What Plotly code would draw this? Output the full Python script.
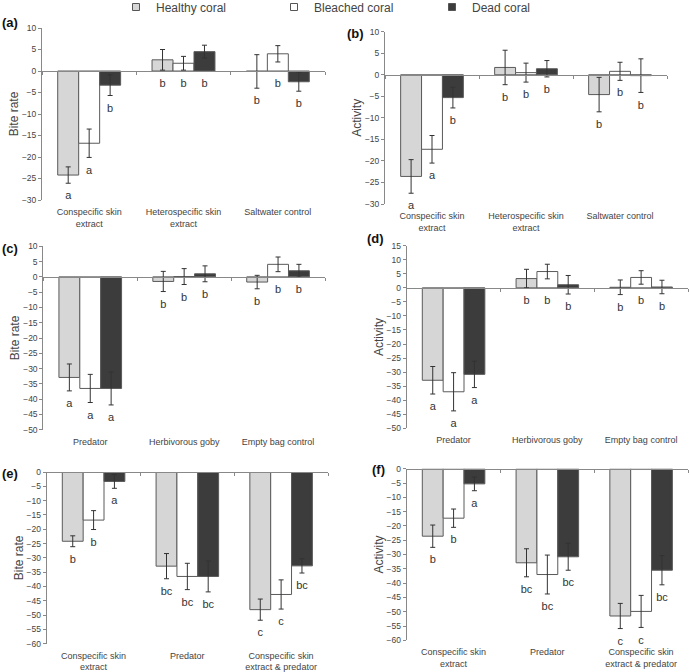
import numpy as np
import plotly.graph_objects as go

FONT = "Liberation Sans, Arial, Helvetica, sans-serif"
W, H = 690, 672

series_names = ["Healthy coral", "Bleached coral", "Dead coral"]
series_colors = ["#d6d6d6", "#ffffff", "#3c3c3c"]

cats_ab = ["Conspecific skin<br>extract", "Heterospecific skin<br>extract", "Saltwater control"]
cats_cd = ["Predator", "Herbivorous goby", "Empty bag control"]
cats_ef = ["Conspecific skin<br>extract", "Predator", "Conspecific skin<br>extract & predator"]

# (a) Bite rate
a_healthy = [-24.2, 2.6, -0.1]
a_healthy_err = [1.9, 2.4, 3.9]
a_bleached = [-16.8, 1.8, 4.0]
a_bleached_err = [3.3, 1.6, 1.9]
a_dead = [-3.3, 4.5, -2.5]
a_dead_err = [2.4, 1.5, 2.2]
a_letters = [["a", "b", "b"], ["a", "b", "b"], ["b", "b", "b"]]

# (b) Activity
b_healthy = [-23.6, 1.7, -4.6]
b_healthy_err = [3.9, 4.0, 4.0]
b_bleached = [-17.3, 0.5, 0.8]
b_bleached_err = [3.2, 2.2, 2.1]
b_dead = [-5.3, 1.4, -0.2]
b_dead_err = [2.4, 1.9, 3.9]
b_letters = [["a", "b", "b"], ["a", "b", "b"], ["b", "b", "b"]]

# (c) Bite rate
c_healthy = [-32.9, -1.5, -1.7]
c_healthy_err = [4.4, 3.3, 2.2]
c_bleached = [-36.5, 0.1, 4.1]
c_bleached_err = [4.6, 2.6, 2.4]
c_dead = [-36.5, 1.0, 2.0]
c_dead_err = [5.4, 2.6, 2.1]
c_letters = [["a", "b", "b"], ["a", "b", "b"], ["a", "b", "b"]]

# (d) Activity
d_healthy = [-32.9, 3.3, 0.2]
d_healthy_err = [4.9, 3.3, 2.6]
d_bleached = [-37.0, 5.8, 3.7]
d_bleached_err = [6.8, 2.6, 2.4]
d_dead = [-30.8, 1.1, 0.3]
d_dead_err = [4.7, 3.3, 2.4]
d_letters = [["a", "b", "b"], ["a", "b", "b"], ["a", "b", "b"]]

# (e) Bite rate
e_healthy = [-24.2, -32.9, -48.1]
e_healthy_err = [1.9, 4.4, 3.7]
e_bleached = [-16.8, -36.5, -42.8]
e_bleached_err = [3.3, 4.6, 5.1]
e_dead = [-3.3, -36.5, -32.8]
e_dead_err = [2.4, 5.4, 2.5]
e_letters = [["b", "bc", "c"], ["b", "bc", "c"], ["a", "bc", "bc"]]

# (f) Activity
f_healthy = [-23.6, -32.9, -51.5]
f_healthy_err = [3.9, 4.9, 4.4]
f_bleached = [-17.3, -37.0, -49.9]
f_bleached_err = [3.2, 6.8, 5.6]
f_dead = [-5.3, -30.8, -35.5]
f_dead_err = [2.4, 4.7, 5.1]
f_letters = [["b", "bc", "c"], ["b", "bc", "c"], ["a", "bc", "bc"]]

panels = [
    dict(tag="(a)", ytitle="Bite rate", cats=cats_ab,
         vals=[a_healthy, a_bleached, a_dead], errs=[a_healthy_err, a_bleached_err, a_dead_err],
         letters=a_letters, yrange=[-30, 10], px_x=(42, 325), px_y=(28, 200), tag_px=(0, 23)),
    dict(tag="(b)", ytitle="Activity", cats=cats_ab,
         vals=[b_healthy, b_bleached, b_dead], errs=[b_healthy_err, b_bleached_err, b_dead_err],
         letters=b_letters, yrange=[-30, 10], px_x=(385, 667), px_y=(31.7, 204), tag_px=(345, 33)),
    dict(tag="(c)", ytitle="Bite rate", cats=cats_cd,
         vals=[c_healthy, c_bleached, c_dead], errs=[c_healthy_err, c_bleached_err, c_dead_err],
         letters=c_letters, yrange=[-50, 10], px_x=(43.3, 325), px_y=(246.3, 429.7), tag_px=(0, 248)),
    dict(tag="(d)", ytitle="Activity", cats=cats_cd,
         vals=[d_healthy, d_bleached, d_dead], errs=[d_healthy_err, d_bleached_err, d_dead_err],
         letters=d_letters, yrange=[-50, 15], px_x=(406.7, 688), px_y=(245.7, 428.3), tag_px=(365, 239)),
    dict(tag="(e)", ytitle="Bite rate", cats=cats_ef,
         vals=[e_healthy, e_bleached, e_dead], errs=[e_healthy_err, e_bleached_err, e_dead_err],
         letters=e_letters, yrange=[-60, 0], px_x=(46.7, 328), px_y=(472, 643.7), tag_px=(0, 473)),
    dict(tag="(f)", ytitle="Activity", cats=cats_ef,
         vals=[f_healthy, f_bleached, f_dead], errs=[f_healthy_err, f_bleached_err, f_dead_err],
         letters=f_letters, yrange=[-60, 0], px_x=(406.7, 688), px_y=(468.7, 640.3), tag_px=(370, 469)),
]

fig = go.Figure()
layout = {}
annotations = []
n = len(panels)
letter_font = dict(family=FONT, size=11, color="#333333")

for i, p in enumerate(panels):
    k = i + 1
    ov = k + n
    xa = "x" if k == 1 else f"x{k}"
    ya = "y" if k == 1 else f"y{k}"
    xo = f"x{ov}"
    xdom = [p["px_x"][0] / W, p["px_x"][1] / W]
    ydom = [1 - p["px_y"][1] / H, 1 - p["px_y"][0] / H]

    for s in range(3):
        v = np.array(p["vals"][s], dtype=float)
        e = np.array(p["errs"][s], dtype=float)
        fig.add_trace(go.Bar(
            x=p["cats"], y=v, name=series_names[s], showlegend=False,
            offsetgroup=str(s), xaxis=xa, yaxis=ya,
            marker=dict(color=series_colors[s], line=dict(color="#5a5a5a", width=1)),
            error_y=dict(type="data", array=e, visible=True, color="#333333", thickness=1, width=2.5),
            hoverinfo="skip",
        ))
    for s in range(3):
        v = np.array(p["vals"][s], dtype=float)
        e = np.array(p["errs"][s], dtype=float)
        lo = np.minimum(v - e, 0)
        fig.add_trace(go.Scatter(
            x=p["cats"], y=lo, mode="markers+text", showlegend=False, offsetgroup=str(s),
            xaxis=xa, yaxis=ya, text=p["letters"][s], textposition="bottom center",
            marker=dict(size=11, color="rgba(0,0,0,0)"),
            textfont=letter_font, cliponaxis=False, hoverinfo="skip",
        ))
    # invisible trace to create the zero-line overlay axis subplot
    fig.add_trace(go.Scatter(x=[None], y=[None], xaxis=xo, yaxis=ya, showlegend=False, hoverinfo="skip"))

    y0, y1 = p["yrange"]
    zero_pos = ydom[0] + (0 - y0) / (y1 - y0) * (ydom[1] - ydom[0])

    layout["xaxis" if k == 1 else f"xaxis{k}"] = dict(
        domain=xdom, anchor=ya, type="category", categoryorder="array", categoryarray=p["cats"],
        range=[-0.5, 2.5], showline=False, ticks="", showgrid=False, zeroline=False, automargin=False,
        ticklabelstandoff=5,
        tickfont=dict(family=FONT, size=9, color="#444444"),
    )
    layout[f"xaxis{ov}"] = dict(
        overlaying=xa, anchor="free", position=zero_pos, range=[-0.5, 2.5],
        tickmode="array", tickvals=[-0.5, 0.5, 1.5, 2.5], showticklabels=False,
        ticks="outside", ticklen=3, tickcolor="#888888", showline=True, linecolor="#888888",
        linewidth=1, showgrid=False, zeroline=False, automargin=False,
    )
    layout["yaxis" if k == 1 else f"yaxis{k}"] = dict(
        domain=ydom, anchor=xa, range=p["yrange"], dtick=5, tick0=0,
        showline=True, linecolor="#888888", linewidth=1, ticks="outside", ticklen=3,
        tickcolor="#888888", showgrid=False, zeroline=False, automargin=False,
        tickfont=dict(family=FONT, size=8.5, color="#444444"),
        title=dict(text=p["ytitle"], font=dict(family=FONT, size=12, color="#444444"), standoff=0),
    )
    annotations.append(dict(
        text="<b>" + p["tag"] + "</b>", xref="paper", yref="paper",
        x=p["tag_px"][0] / W, y=1 - p["tag_px"][1] / H, xanchor="left", yanchor="middle",
        showarrow=False, font=dict(family=FONT, size=13, color="#111111"),
    ))

# legend entries
for s in range(3):
    fig.add_trace(go.Scatter(
        x=[None], y=[None], mode="markers", name=series_names[s], xaxis="x", yaxis="y",
        marker=dict(symbol="square", size=7, color=series_colors[s], line=dict(color="#555555", width=1)),
    ))

fig.update_layout(
    width=W, height=H,
    margin=dict(l=0, r=0, t=0, b=0, autoexpand=False),
    paper_bgcolor="white", plot_bgcolor="white",
    barmode="group", bargap=0.333, bargroupgap=0,
    scattermode="group", scattergap=0.333,
    showlegend=True,
    legend=dict(orientation="h", x=116 / W, y=1 - 7 / H, xanchor="left", yanchor="middle",
                entrywidth=113, entrywidthmode="pixels", itemwidth=30, tracegroupgap=0,
                borderwidth=0,
                font=dict(family=FONT, size=12, color="#444444"), bgcolor="rgba(0,0,0,0)"),
    annotations=annotations,
    font=dict(family=FONT),
    **layout,
)

fig.write_html("out.html", config={"displayModeBar": False},
               post_script="document.body.style.margin='0px';")
